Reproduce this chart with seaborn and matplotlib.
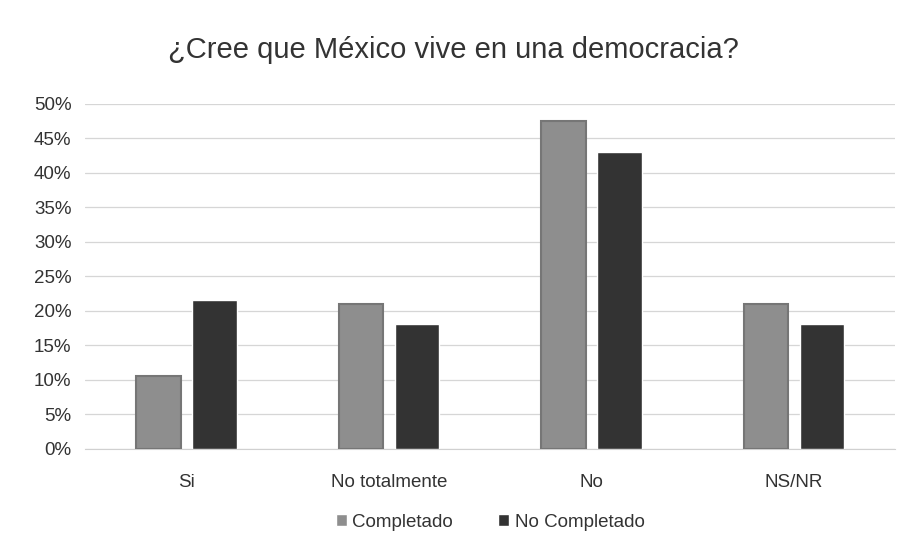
import pandas as pd
import seaborn as sns
import matplotlib.pyplot as plt
from matplotlib.ticker import PercentFormatter

categorias = ["Si", "No totalmente", "No", "NS/NR"]
completado = [10.5, 21.0, 47.5, 21.0]
no_completado = [21.6, 18.0, 43.0, 18.0]
series = ["Completado", "No Completado"]
colores = ["#8e8e8e", "#333333"]

df = pd.DataFrame({
    "categoria": categorias * 2,
    "valor": completado + no_completado,
    "serie": [series[0]] * 4 + [series[1]] * 4,
})

sns.set_style("white")
plt.rcParams["font.family"] = ["Liberation Sans", "DejaVu Sans"]

fig = plt.figure(figsize=(9.07, 5.54), dpi=100)
ax = fig.add_axes([0.094, 0.19, 0.893, 0.623])

sns.barplot(data=df, x="categoria", y="valor", hue="serie", palette=colores,
            width=0.55, gap=0.2, ax=ax, zorder=3)

for p in ax.containers[0]:
    p.set_edgecolor("#767676")
    p.set_linewidth(1.5)

ax.set_ylim(0, 50)
ax.set_yticks(range(0, 51, 5))
ax.yaxis.set_major_formatter(PercentFormatter(decimals=0))
ax.grid(axis="y", color="#d6d6d6", linewidth=0.9, zorder=0)
ax.set_axisbelow(True)
for s in ["top", "right", "left"]:
    ax.spines[s].set_visible(False)
ax.spines["bottom"].set_color("#d0d0d0")
ax.tick_params(axis="y", length=0, labelsize=13.5, colors="#333333", pad=10)
ax.tick_params(axis="x", length=0, labelsize=13.5, colors="#333333", pad=18)
ax.set_xlabel("")
ax.set_ylabel("")

fig.suptitle("¿Cree que México vive en una democracia?", fontsize=21,
             color="#333333", y=0.935)

ax.legend(loc="upper center", bbox_to_anchor=(0.5, -0.14), ncol=2, frameon=False,
          fontsize=13.5, handlelength=0.6, handleheight=0.6, handletextpad=0.3,
          columnspacing=2.4, labelcolor="#333333")

fig.savefig("out.png", dpi=100)
